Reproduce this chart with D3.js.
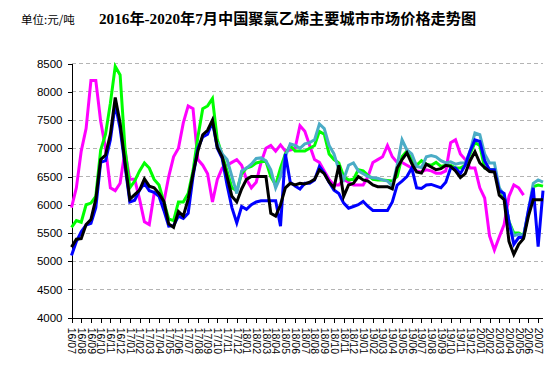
<!DOCTYPE html>
<html><head><meta charset="utf-8">
<script src="https://cdn.jsdelivr.net/npm/d3@7"></script>
<style>html,body{margin:0;padding:0;background:#fff;}svg{display:block;}</style>
</head><body>
<svg id="chart" width="557" height="368"></svg>
<script>
const unitLabel = "单位:元/吨";
const title = "2016年-2020年7月中国聚氯乙烯主要城市市场价格走势图";
const tickLabels = ["16/07","16/08","16/09","16/10","16/11","16/12",
  "17/01","17/02","17/03","17/04","17/05","17/06","17/07","17/08","17/09","17/10","17/11","17/12",
  "18/01","18/02","18/03","18/04","18/05","18/06","18/07","18/08","18/09","18/10","18/11","18/12",
  "19/01","19/02","19/03","19/04","19/05","19/06","19/07","19/08","19/09","19/10","19/11","19/12",
  "20/01","20/02","20/03","20/04","20/05","20/06","20/07"];
const yTicks = [4000,4500,5000,5500,6000,6500,7000,7500,8000,8500];
// half-month observations, starting July 2016
const magenta = [5950,6300,6950,7350,8200,8200,7480,7000,6300,6250,
 6380,6950,6450,6450,6100,5700,5650,6200,6200,6050,
 6500,6850,7000,7450,7750,7700,6800,6700,6550,6050,
 6450,6650,6700,6750,6800,6700,6450,6300,6400,6750,
 7000,7050,6950,7060,6950,6970,7000,7400,7300,7050,
 6800,6750,6600,6450,6350,6350,6450,6400,6350,6350,
 6350,6500,6750,6800,6850,7050,6850,6750,6750,6700,
 6650,6600,6580,6620,6600,6560,6560,6600,7100,7150,
 6900,6800,6650,6650,6300,6120,5450,5200,5430,5650,
 6150,6350,6300,6170,null,null,null,null];
const green = [5600,5720,5690,6000,6030,6150,6970,7250,7800,8450,
 8300,7000,6300,6420,6600,6740,6650,6450,6350,6050,
 5750,5720,6050,6050,6200,6600,7200,7700,7750,7880,
 7150,6880,6600,6300,6250,6550,6650,6680,6740,6760,
 6770,6500,6350,6650,6900,7050,6950,6950,6950,7000,
 7050,7300,7250,6900,6800,6740,6500,6440,6450,6620,
 6600,6520,6450,6440,6440,6430,6420,6500,6850,6950,
 6800,6700,6780,6720,6700,6750,6680,6700,6700,6650,
 6650,6700,6900,7100,7050,6650,6620,6620,6280,6150,
 5700,5500,5500,5450,5850,6320,6350,6330];
const teal = [null,null,null,null,null,null,null,null,null,null,
 null,null,null,null,null,null,null,null,null,null,
 null,null,null,null,null,null,null,null,null,null,
 7100,6900,6800,6500,6200,6600,6650,6720,6820,6830,
 6780,6620,6300,6500,6850,7080,7050,7000,7080,7100,
 7150,7430,7350,7050,6900,6620,6450,6700,6740,6600,
 6550,6500,6480,6470,6440,6420,6330,6700,7150,6970,
 6900,6680,6660,6850,6870,6850,6780,6740,6760,6720,
 6740,6740,6950,7270,7240,6900,6740,6740,6300,6170,
 5700,5450,5480,5450,5900,6380,6440,6400];
const blue = [5100,5350,5520,5640,5670,5950,6750,6780,7150,7780,
 7350,6700,6050,6080,6260,6380,6250,6220,6150,5900,
 5620,5630,5800,5760,5850,6500,7000,7200,7250,7470,
 7000,6820,6350,5950,5680,5970,5920,6000,6050,6070,
 6070,6070,6070,5620,6900,6400,6330,6280,6380,6380,
 6440,6680,6560,6400,6260,6200,6030,5940,5970,6000,
 6060,5970,5900,5900,5900,5900,6050,6350,6420,6500,
 6650,6300,6290,6350,6360,6330,6300,6400,6650,6650,
 6550,6700,6950,7150,7120,6780,6620,6620,6250,6200,
 5700,5300,5420,5420,5900,6300,5260,6250];
const black = [5250,5390,5400,5650,5740,6100,6800,6880,7250,7900,
 7450,6750,6100,6180,6260,6460,6330,6300,6200,6060,
 5660,5600,5880,5800,6100,6550,6950,7240,7320,7500,
 7020,6850,6500,6150,6050,6280,6450,6500,6500,6500,
 6500,5850,5800,6000,6300,6380,6350,6380,6370,6400,
 6450,6620,6550,6400,6300,6700,6150,6350,6380,6500,
 6440,6420,6350,6320,6320,6320,6280,6650,6800,6920,
 6730,6580,6560,6720,6670,6620,6640,6700,6680,6600,
 6480,6550,6780,6940,6740,6660,6590,6580,6170,6090,
 5350,5120,5300,5400,5800,6090,6090,6090];

const seriesList = [
  {values: magenta, color: "#FF00FF"},
  {values: green, color: "#00FF00"},
  {values: teal, color: "#4BACC6"},
  {values: blue, color: "#0000FF"},
  {values: black, color: "#000000"}
];

(function draw() {
const svg = d3.select("#chart");
const pLeft = 71.5, pRight = 543, pTop = 63.6, pBottom = 317.7;
const x = d3.scaleLinear().domain([0, 48.5]).range([pLeft, pRight]);
const y = d3.scaleLinear().domain([4000, 8500]).range([pBottom, pTop]);

svg.append("text").attr("x", 21).attr("y", 24).attr("font-family", "'Noto Sans CJK SC', sans-serif")
  .attr("font-size", 11.5).attr("fill", "#000").text(unitLabel);
svg.append("text").attr("x", 99).attr("y", 24).attr("font-family", "'Liberation Serif', 'Noto Sans CJK SC', serif")
  .attr("font-weight", "bold").attr("font-size", 15.2).attr("fill", "#000").text(title);

// grid
svg.append("g").selectAll("line").data(yTicks.filter(d => d > 4000)).join("line")
  .attr("x1", pLeft).attr("x2", pRight).attr("y1", d => y(d)).attr("y2", d => y(d))
  .attr("stroke", "#b4b4b4").attr("stroke-width", 1).attr("stroke-dasharray", "4,3")
  .attr("shape-rendering", "crispEdges");

// y axis
const yAxis = d3.axisLeft(y).tickValues(yTicks).tickSize(4).tickPadding(5).tickFormat(d3.format("d"));
const gy = svg.append("g").attr("transform", `translate(${pLeft},0)`).call(yAxis);
gy.select(".domain").attr("stroke", "#000").attr("shape-rendering", "crispEdges");
gy.selectAll(".tick line").attr("stroke", "#000").attr("shape-rendering", "crispEdges");
gy.selectAll("text").attr("font-family", "'Liberation Sans', Arial, sans-serif").attr("font-size", 11.5).attr("fill", "#000");

// x axis
const xAxis = d3.axisBottom(x).tickValues(d3.range(tickLabels.length)).tickSize(5).tickFormat(i => tickLabels[i]);
const gx = svg.append("g").attr("transform", `translate(0,${pBottom})`).call(xAxis);
gx.select(".domain").attr("stroke", "#000").attr("d", `M${pLeft},0.5H${pRight}`).attr("shape-rendering", "crispEdges");
gx.selectAll(".tick line").attr("stroke", "#000").attr("shape-rendering", "crispEdges");
gx.selectAll("text").attr("font-family", "'Liberation Sans', Arial, sans-serif").attr("font-size", 10.5)
  .attr("fill", "#000").attr("text-anchor", "start")
  .attr("transform", "rotate(90)").attr("x", 10).attr("y", 0).attr("dy", "0.35em");

// lines
const line = d3.line().defined(d => d != null).x((d, i) => x(i * 0.5)).y(d => y(d));
const gl = svg.append("g");
seriesList.forEach(s => {
  gl.append("path").datum(s.values).attr("d", line)
    .attr("fill", "none").attr("stroke", s.color).attr("stroke-width", 3)
    .attr("stroke-linejoin", "miter").attr("stroke-linecap", "butt");
});
})();
</script>
</body></html>
